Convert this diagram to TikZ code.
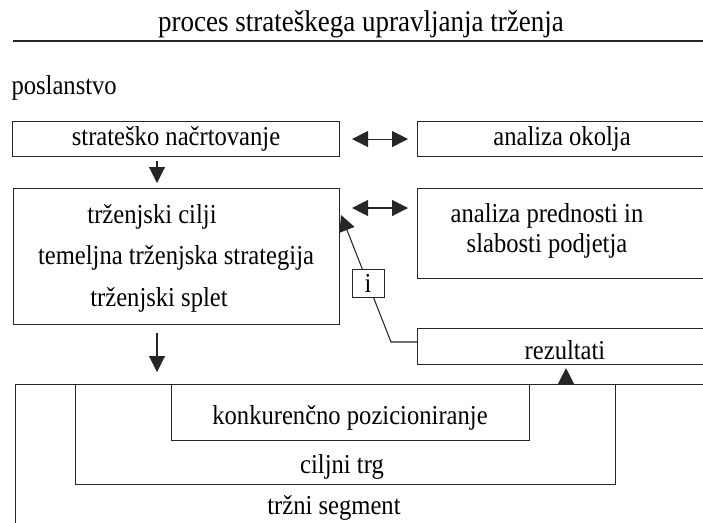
\documentclass[tikz,border=0pt]{standalone}
\usepackage{fontspec}
\setmainfont{Liberation Serif}[FakeStretch=0.9]
\usetikzlibrary{calc,positioning,arrows.meta}
\tikzstyle{diagram}=[
    x=0.75pt,y=-0.75pt,
    font=\fontsize{20.5}{22}\selectfont,
    every node/.style={
        align=center, inner sep=0pt,
    },
    line width=0.8pt, draw=black!85,
]
\tikzstyle{frame}=[draw=black!85, anchor=north west,
    minimum width=#1*0.75pt]
\tikzstyle{tall}=[minimum height=#1*0.75pt]
\tikzstyle{flow}=[-{Triangle[length=12pt,width=12pt]}]
\tikzstyle{link}=[{Triangle[length=12pt,width=12pt]}-{Triangle[length=12pt,width=12pt]}]
\tikzstyle{tag}=[draw=black!85, fill=white,
    minimum width=24pt, minimum height=21pt]

\begin{document}
\begin{tikzpicture}[diagram]
    \useasboundingbox (0,0) rectangle (703,522);
    \clip (0,0) rectangle (703,522);

    % heading
    \node[font=\fontsize{22.5}{24}\selectfont] (title) at (361,24) {proces strateškega upravljanja trženja};
    \coordinate (rulel) at (13,41);
    \coordinate (ruler) at (710,41);
    \draw (rulel) -- (ruler);
    \node[anchor=west] (mission) at (11,88) {poslanstvo};

    % boxes
    \node[frame=327, tall=35] (plan) at (12,121) {strateško načrtovanje};
    \node[frame=300, tall=35] (env) at (417,121) {};
    \node (envtxt) at (562,139) {analiza okolja};
    \node[frame=326, tall=136] (core) at (13,188) {};
    \node (goals) at (152,217) {trženjski cilji};
    \node (strategy) at (176,258) {temeljna trženjska strategija};
    \node (mix) at (159,300) {trženjski splet};
    \node[frame=300, tall=90] (swot) at (417,188) {};
    \node (swottxt) at (547,231) {analiza prednosti in\\slabosti podjetja};
    \node[frame=300, tall=36] (results) at (417,328) {};
    \node (resultstxt) at (565,350) {rezultati};

    % markets
    \node[frame=700, tall=150] (market) at (15,384) {};
    \node (markettxt) at (334,508) {tržni segment};
    \node[frame=540, tall=100] (target) at (75,384) {};
    \node (targettxt) at (342,467) {ciljni trg};
    \node[frame=358, tall=56] (position) at (171,384) {};
    \node (positiontxt) at (350,418) {konkurenčno pozicioniranje};

    % connectors
    \draw[link] ($(plan.east)+(12,0)$) -- ($(env.west)+(-9,0)$);
    \draw[link] ($(core.north east)+(12,20)$) -- ($(swot.north west)+(-9,20)$);
    \draw[flow] ($(plan.south west)+(145,4)$) -- ($(core.north west)+(144,-5)$);
    \draw[flow] ($(core.south west)+(144,8)$) -- ($(market.north west)+(142,-12)$);
    \draw[flow] ($(market.north west)+(551,0)$) -- ($(results.south west)+(149,3)$);
    \draw[flow] ($(results.north west)+(0,14)$) -- ($(results.north west)+(-26,14)$)
        -- node[tag, pos=.46] (info) {i} ($(core.north east)+(1,27)$);
\end{tikzpicture}
\end{document}
